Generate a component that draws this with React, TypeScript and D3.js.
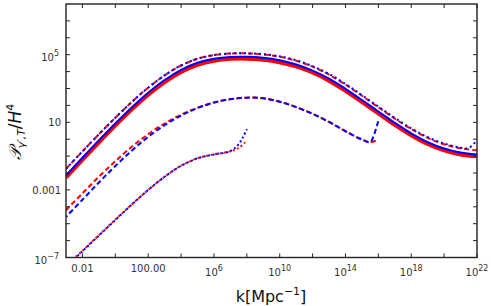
import React from 'react';
import * as d3 from 'd3';

// log10(k) sample points and log10(P/H^4) values
const topK = [-3, -2, -1, 0, 1, 2, 3, 4, 5, 6, 7, 8, 9, 10, 11, 12, 13, 14, 15, 16, 17, 18, 19, 20, 21, 22];
const topSolidRed = [-2.26, -1.21, -0.18, 0.82, 1.77, 2.64, 3.39, 3.99, 4.41, 4.65, 4.76, 4.77, 4.71, 4.56, 4.31, 3.95, 3.47, 2.87, 2.21, 1.53, 0.86, 0.24, -0.28, -0.66, -0.9, -1.01];
const topSolidBlue = [-2.15, -1.1, -0.07, 0.93, 1.88, 2.75, 3.5, 4.1, 4.52, 4.76, 4.87, 4.88, 4.82, 4.67, 4.42, 4.06, 3.58, 2.98, 2.32, 1.64, 0.97, 0.35, -0.17, -0.55, -0.79, -0.9];
const topDashedRed = [-1.75, -0.72, 0.29, 1.27, 2.2, 3.05, 3.78, 4.36, 4.76, 4.98, 5.07, 5.08, 5.02, 4.88, 4.64, 4.29, 3.82, 3.23, 2.57, 1.89, 1.22, 0.6, 0.08, -0.3, -0.54, -0.66];
const topDotK = [-3, -2, -1, 0, 1, 2, 3, 4, 5, 6, 7, 8, 9, 10, 11, 12, 13, 14, 15, 16, 17, 18, 19, 20, 21, 21.5, 22];
const topDottedBlue = [-1.75, -0.72, 0.29, 1.27, 2.2, 3.05, 3.78, 4.36, 4.76, 4.98, 5.07, 5.08, 5.03, 4.9, 4.67, 4.32, 3.86, 3.27, 2.61, 1.93, 1.26, 0.64, 0.12, -0.26, -0.5, -0.52, -0.05];

const midRedK = [-3, -2, -1, 0, 1, 2, 3, 4, 5, 6, 7, 8, 9, 10, 11, 12, 13, 14, 15, 15.5, 16];
const midRed = [-4.2, -3.2, -2.22, -1.3, -0.45, 0.3, 0.93, 1.45, 1.86, 2.17, 2.37, 2.46, 2.42, 2.22, 1.9, 1.5, 1.02, 0.47, -0.02, -0.17, -0.03];
const midBlueK = [-3, -2, -1, 0, 1, 2, 3, 4, 5, 6, 7, 8, 9, 10, 11, 12, 13, 14, 15, 15.5, 15.75, 16];
const midBlue = [-4.6, -3.58, -2.56, -1.59, -0.68, 0.14, 0.83, 1.4, 1.84, 2.17, 2.37, 2.46, 2.42, 2.22, 1.9, 1.5, 1.02, 0.47, -0.02, -0.17, 0.3, 1.1];

const lowRedK = [-2.6, -2, -1, 0, 1, 2, 3, 4, 5, 6, 7, 7.5, 7.9];
const lowRed = [-7.14, -6.6, -5.68, -4.76, -3.86, -3.0, -2.22, -1.57, -1.13, -0.9, -0.72, -0.52, -0.18];
const lowBlueK = [-2.6, -2, -1, 0, 1, 2, 3, 4, 5, 6, 7, 7.5, 7.75, 8.0];
const lowBlue = [-7.18, -6.63, -5.7, -4.78, -3.87, -3.0, -2.22, -1.57, -1.13, -0.9, -0.7, -0.3, 0.1, 0.6];

const xTickLabels = ['0.01', '100.00', '10^6', '10^10', '10^14', '10^18', '10^22'];
const xTickValues = [1e-2, 1e2, 1e6, 1e10, 1e14, 1e18, 1e22];
const yTickLabels = ['10^-7', '0.001', '10', '10^5'];
const yTickValues = [1e-7, 1e-3, 1e1, 1e5];

const W = 491, H = 306;
const L = 66, R = 477, T = 4, B = 257.5;

const x = d3.scaleLog().domain([1e-3, 1e22]).range([L, R]);
const y = d3.scaleLog().domain([1e-7, 1e8]).range([B, T]);

const line = d3.line<[number, number]>()
  .x(d => x(10 ** d[0]))
  .y(d => y(10 ** d[1]))
  .curve(d3.curveCatmullRom.alpha(0.5));

const pts = (ks: number[], vs: number[]) => ks.map((k, i) => [k, vs[i]] as [number, number]);

const series = [
  { d: pts(topK, topSolidRed), color: '#ff0000', w: 4.2, dash: null, off: 0 },
  { d: pts(topK, topSolidBlue), color: '#0000ff', w: 2, dash: null, off: 0 },
  { d: pts(topK, topDashedRed), color: '#ff0000', w: 2, dash: '5,3', off: 0 },
  { d: pts(topDotK, topDottedBlue), color: '#0000ff', w: 2, dash: '2,3', off: 0 },
  { d: pts(midRedK, midRed), color: '#ff0000', w: 2, dash: '5,3', off: 0 },
  { d: pts(midBlueK, midBlue), color: '#0000ff', w: 2, dash: '5,3', off: 3 },
  { d: pts(lowRedK, lowRed), color: '#ff0000', w: 2, dash: '2,2.5', off: 0 },
  { d: pts(lowBlueK, lowBlue), color: '#0000ff', w: 2, dash: '2,2.5', off: 2.2 },
];

function TickText({ label, ...rest }: any) {
  const parts = label.split('^');
  if (parts.length === 1) return <text {...rest}>{label}</text>;
  return (
    <text {...rest}>
      {parts[0]}
      <tspan dy={-5} fontSize={8}>{parts[1].replace('-', '\u2212')}</tspan>
    </text>
  );
}

export default function App() {
  const xMinor = d3.range(-2, 23, 2).map(e => 10 ** e);
  const yMinor = d3.range(-6, 8).map(e => 10 ** e);
  return (
    <svg width={W} height={H} style={{ position: 'absolute', left: 0, top: 0, background: '#fff' }}
      fontFamily="'DejaVu Sans', sans-serif">
      <defs>
        <clipPath id="plot"><rect x={L} y={T} width={R - L} height={B - T} /></clipPath>
      </defs>
      <g clipPath="url(#plot)" fill="none" strokeLinejoin="round">
        {series.map((s, i) => (
          <path key={i} d={line(s.d) || ''} stroke={s.color} strokeWidth={s.w}
            strokeDasharray={s.dash || undefined} strokeDashoffset={s.off} />
        ))}
      </g>
      <g stroke="#222" strokeWidth={1}>
        {xMinor.map((v, i) => (
          <g key={i}>
            <line x1={x(v)} x2={x(v)} y1={B} y2={B - 4} />
            <line x1={x(v)} x2={x(v)} y1={T} y2={T + 4} />
          </g>
        ))}
        {yMinor.map((v, i) => (
          <g key={i}>
            <line x1={L} x2={L + 4} y1={y(v)} y2={y(v)} />
            <line x1={R} x2={R - 4} y1={y(v)} y2={y(v)} />
          </g>
        ))}
      </g>
      <rect x={L} y={T} width={R - L} height={B - T} fill="none" stroke="#222" strokeWidth={1.4} />
      <g fontSize={10} fill="#333">
        {xTickLabels.map((t, i) => (
          <TickText key={i} label={t} x={x(xTickValues[i])} y={t.includes('^') ? 276 : 272} textAnchor="middle" />
        ))}
        {yTickLabels.map((t, i) => (
          <TickText key={i} label={t} x={t.includes('^') ? 59 : 61} y={y(yTickValues[i]) + (t.includes('^') ? 6 : 4)} textAnchor="end" />
        ))}
      </g>
      <text x={271} y={302} fontSize={16} textAnchor="middle" fill="#111">
        k[Mpc<tspan dy={-7} fontSize={11}>{'\u2212'}1</tspan><tspan dy={7}>]</tspan>
      </text>
      <text transform="translate(21,132) rotate(-90)" fontSize={17} textAnchor="middle" fill="#111">
        <tspan fontStyle="italic">{'\uD835\uDCAB'}</tspan>
        <tspan dy={4} fontSize={11} fontStyle="italic">{'\u03B3\u2032,T'}</tspan>
        <tspan dy={-4}>/</tspan>
        <tspan fontStyle="italic">H</tspan>
        <tspan dy={-7} fontSize={11}>4</tspan>
      </text>
    </svg>
  );
}
